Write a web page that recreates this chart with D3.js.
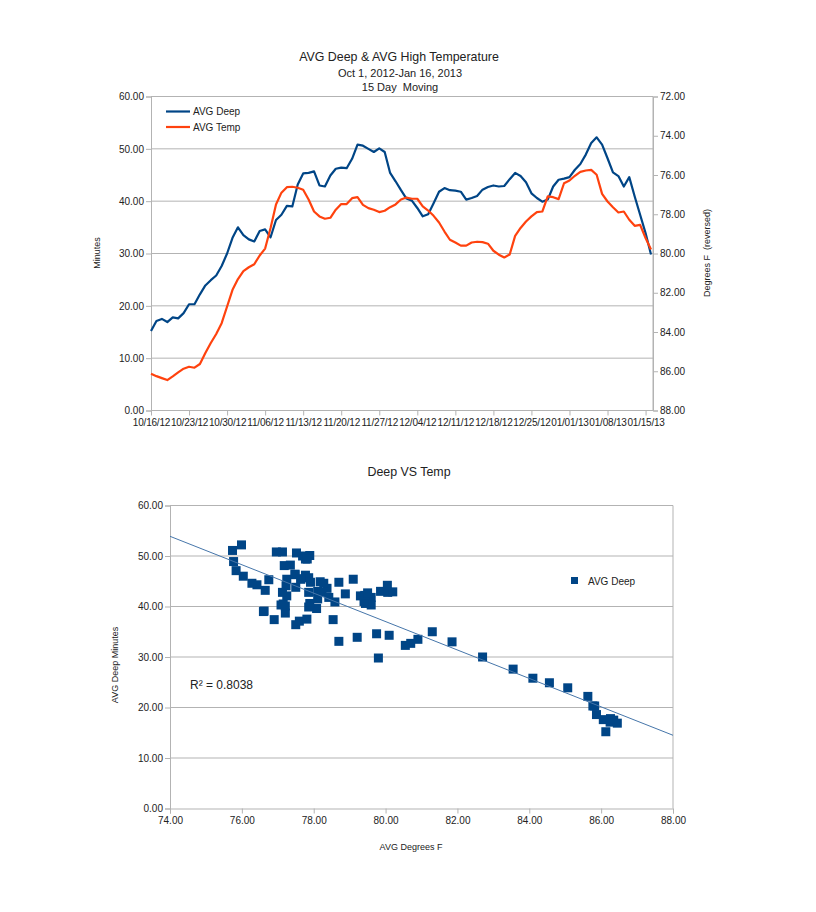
<!DOCTYPE html>
<html><head><meta charset="utf-8">
<script src="https://cdn.jsdelivr.net/npm/d3@7/dist/d3.min.js"></script>
<style>
body{margin:0;background:#fff}
svg{display:block}
text{font-family:'Liberation Sans',Arial,sans-serif;fill:#222}
</style>
</head><body>
<script>
// ---------- DATA ----------
const startDate = new Date(2012, 9, 16);   // 10/16/12
const endDate = new Date(2013, 0, 16);     // 1/16/13 (inclusive)
const dates = d3.timeDay.range(startDate, d3.timeDay.offset(endDate, 1));

const avgDeep = [
  15.2,17.1,17.5,16.9,17.8,17.6,18.6,20.3,20.3,22.2,
  23.9,24.9,25.8,27.6,30.0,33.0,35.0,33.5,32.7,32.3,
  34.3,34.6,33.1,36.4,37.4,39.1,39.0,43.2,45.3,45.4,
  45.7,43.0,42.8,44.9,46.2,46.4,46.3,48.1,50.8,50.6,
  50.0,49.4,50.1,49.4,45.4,43.8,42.1,40.5,40.1,38.7,
  37.1,37.5,39.6,41.8,42.5,42.1,42.0,41.8,40.3,40.6,
  41.0,42.2,42.7,43.0,42.8,42.9,44.2,45.4,44.8,43.6,
  41.5,40.6,39.9,40.3,42.8,44.1,44.3,44.6,46.0,47.1,
  48.9,51.1,52.2,50.8,48.2,45.5,44.8,42.8,44.6,40.9,
  37.4,33.9,29.8
];
const avgTemp = [
  86.13,86.25,86.35,86.45,86.26,86.06,85.87,85.77,85.82,85.63,
  85.07,84.56,84.10,83.55,82.70,81.85,81.30,80.90,80.70,80.55,
  80.10,79.75,78.70,77.50,76.90,76.62,76.60,76.65,76.75,77.25,
  77.86,78.11,78.23,78.18,77.77,77.48,77.48,77.18,77.13,77.52,
  77.69,77.77,77.89,77.82,77.64,77.50,77.25,77.15,77.21,77.21,
  77.60,77.81,78.08,78.42,78.88,79.30,79.44,79.60,79.60,79.44,
  79.40,79.42,79.50,79.86,80.06,80.20,80.05,79.10,78.70,78.37,
  78.11,77.89,77.86,77.09,77.13,77.23,76.42,76.28,76.04,75.84,
  75.77,75.74,75.99,76.96,77.35,77.64,77.91,77.86,78.28,78.59,
  78.54,79.21,79.80
];
const xTickLabels = ["10/16/12","10/23/12","10/30/12","11/06/12","11/13/12","11/20/12","11/27/12",
  "12/04/12","12/11/12","12/18/12","12/25/12","01/01/13","01/08/13","01/15/13"];
const minutesTicks = [0,10,20,30,40,50,60];
const degreeTicks = [72,74,76,78,80,82,84,86,88];
const scatterXTicks = [74,76,78,80,82,84,86,88];
const scatterYTicks = [0,10,20,30,40,50,60];
const trendX = [74, 88];
const trendY = [53.9, 14.5];
const rSquared = "R² = 0.8038";

// ---------- SETUP ----------
const W = 816, H = 912;
const svg = d3.select("body").append("svg").attr("width", W).attr("height", H);
const fmt = d3.format(".2f");
const gridC = "#b3b3b3", blue = "#004586", orange = "#ff420e";
const parseLbl = d3.timeParse("%m/%d/%y");

function styleAxis(g) {
  g.selectAll(".domain").attr("stroke", gridC);
  g.selectAll(".tick line").attr("stroke", gridC);
  g.selectAll(".tick text").attr("fill", "#222").style("font-size", "10px")
   .style("font-family", "'Liberation Sans',Arial,sans-serif");
}

// ---------- TOP CHART ----------
const x1 = d3.scaleTime().domain([dates[0], dates[dates.length - 1]]).range([151, 651]);
const yL = d3.scaleLinear().domain([0, 60]).range([410.5, 96.5]);
const yR = d3.scaleLinear().domain([72, 88]).range([96.5, 410.5]);
const gTop = svg.append("g");

gTop.append("g").selectAll("line").data(minutesTicks.filter(d => d > 0)).join("line")
  .attr("x1", 151).attr("x2", 653).attr("y1", d => yL(d)).attr("y2", d => yL(d))
  .attr("stroke", gridC).attr("stroke-width", 1);
gTop.append("line").attr("x1", 653).attr("x2", 653).attr("y1", 96.5).attr("y2", 410.5).attr("stroke", gridC);

gTop.append("g").attr("transform", "translate(151,0)")
  .call(d3.axisLeft(yL).tickValues(minutesTicks).tickSize(5).tickPadding(2).tickFormat(fmt)).call(styleAxis);
gTop.append("g").attr("transform", "translate(653,0)")
  .call(d3.axisRight(yR).tickValues(degreeTicks).tickSize(5).tickPadding(2).tickFormat(fmt)).call(styleAxis);
const xAx = gTop.append("g").attr("transform", "translate(0,410.5)")
  .call(d3.axisBottom(x1).tickValues(xTickLabels.map(parseLbl)).tickSize(5).tickPadding(3)
    .tickFormat((d, i) => xTickLabels[i]))
  .call(styleAxis);
xAx.select(".domain").attr("d", "M151,0H653");
xAx.selectAll(".tick text").style("letter-spacing", "-0.2px");

const lineDeep = d3.line().x((d, i) => x1(dates[i])).y(d => yL(d));
const lineTemp = d3.line().x((d, i) => x1(dates[i])).y(d => yR(d));
gTop.append("path").attr("d", lineDeep(avgDeep)).attr("fill", "none").attr("stroke", blue)
  .attr("stroke-width", 2.2).attr("stroke-linejoin", "round");
gTop.append("path").attr("d", lineTemp(avgTemp)).attr("fill", "none").attr("stroke", orange)
  .attr("stroke-width", 2.2).attr("stroke-linejoin", "round");

// titles
gTop.append("text").attr("x", 399).attr("y", 61).attr("text-anchor", "middle").style("font-size", "12.4px")
  .text("AVG Deep & AVG High Temperature");
gTop.append("text").attr("x", 400).attr("y", 77).attr("text-anchor", "middle").style("font-size", "11px")
  .text("Oct 1, 2012-Jan 16, 2013");
gTop.append("text").attr("x", 400).attr("y", 91).attr("text-anchor", "middle").style("font-size", "11px")
  .attr("xml:space", "preserve").text("15 Day  Moving");
gTop.append("text").attr("transform", "translate(100,253) rotate(-90)").attr("text-anchor", "middle")
  .style("font-size", "9px").text("Minutes");
gTop.append("text").attr("transform", "translate(710,253) rotate(-90)").attr("text-anchor", "middle")
  .style("font-size", "9px").attr("xml:space", "preserve").text("Degrees F  (reversed)");

// legend
const leg = [{t: "AVG Deep", c: blue, y: 111.5}, {t: "AVG Temp", c: orange, y: 127}];
leg.forEach(l => {
  gTop.append("line").attr("x1", 166).attr("x2", 190).attr("y1", l.y).attr("y2", l.y)
    .attr("stroke", l.c).attr("stroke-width", 2.2);
  gTop.append("text").attr("x", 193).attr("y", l.y + 3.8).style("font-size", "10px").text(l.t);
});

// ---------- BOTTOM CHART ----------
const x2 = d3.scaleLinear().domain([74, 88]).range([170, 673]);
const y2 = d3.scaleLinear().domain([0, 60]).range([808.5, 505.5]);
const gBot = svg.append("g");

gBot.append("g").selectAll("line").data(scatterYTicks.filter(d => d > 0)).join("line")
  .attr("x1", 170).attr("x2", 673).attr("y1", d => y2(d)).attr("y2", d => y2(d))
  .attr("stroke", gridC);
gBot.append("line").attr("x1", 673).attr("x2", 673).attr("y1", 505.5).attr("y2", 808.5).attr("stroke", gridC);
gBot.append("g").attr("transform", "translate(170,0)")
  .call(d3.axisLeft(y2).tickValues(scatterYTicks).tickSize(5).tickPadding(2).tickFormat(fmt)).call(styleAxis);
gBot.append("g").attr("transform", "translate(0,808.5)")
  .call(d3.axisBottom(x2).tickValues(scatterXTicks).tickSize(5).tickPadding(3).tickFormat(fmt)).call(styleAxis);

const pts = avgTemp.map((t, i) => ({t, d: avgDeep[i]}));
gBot.append("g").selectAll("rect").data(pts).join("rect")
  .attr("x", p => x2(p.t) - 4.5).attr("y", p => y2(p.d) - 4.5)
  .attr("width", 9).attr("height", 9).attr("fill", blue);

gBot.append("line").attr("x1", x2(trendX[0])).attr("y1", y2(trendY[0]))
  .attr("x2", x2(trendX[1])).attr("y2", y2(trendY[1]))
  .attr("stroke", "#4676aa").attr("stroke-width", 1);

gBot.append("text").attr("x", 409).attr("y", 476).attr("text-anchor", "middle").style("font-size", "12.4px")
  .text("Deep VS Temp");
gBot.append("text").attr("x", 190).attr("y", 689).style("font-size", "12px").text(rSquared);
gBot.append("text").attr("x", 411).attr("y", 850).attr("text-anchor", "middle").style("font-size", "9px")
  .text("AVG Degrees F");
gBot.append("text").attr("transform", "translate(118,665) rotate(-90)").attr("text-anchor", "middle")
  .style("font-size", "9px").text("AVG Deep Minutes");
gBot.append("rect").attr("x", 571).attr("y", 577).attr("width", 7).attr("height", 7).attr("fill", blue);
gBot.append("text").attr("x", 588).attr("y", 585).style("font-size", "10px").text("AVG Deep");
</script>
</body></html>
